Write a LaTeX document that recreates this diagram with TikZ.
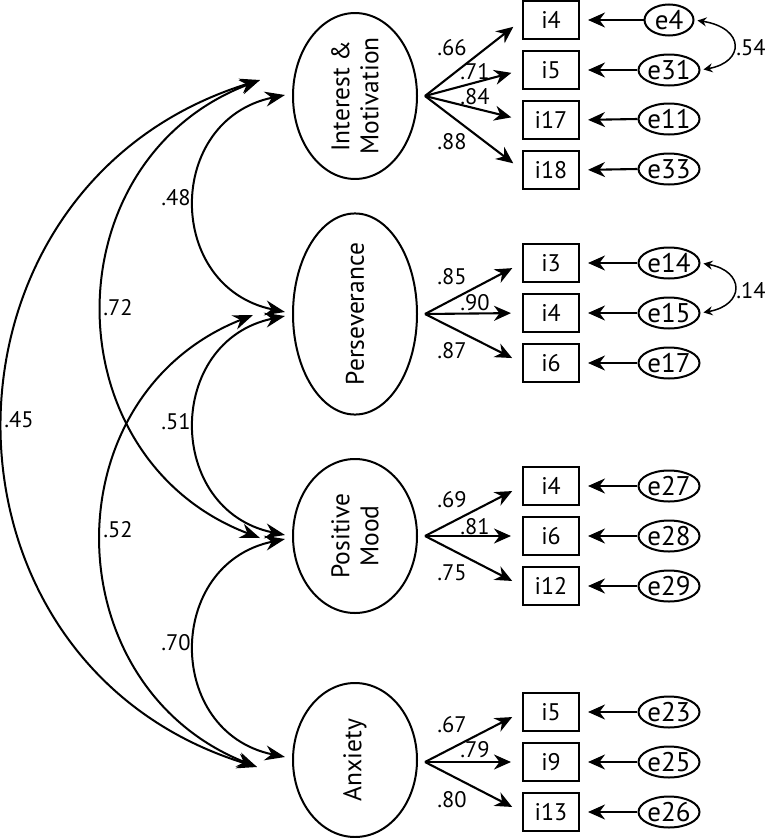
\documentclass[tikz,border=0pt]{standalone}
\usepackage{fontspec}
\setmainfont{PT Sans}
\usetikzlibrary{arrows.meta,shapes.geometric}
\begin{document}
\begin{tikzpicture}[x=1pt,y=-1pt,
  latent/.style={draw, ellipse, line width=2pt, minimum width=154pt, minimum height=124pt, inner sep=0pt, rotate=90, align=center, font=\fontsize{25.5}{29}\selectfont},
  item/.style={draw, rectangle, line width=2pt, minimum width=56pt, minimum height=38pt, inner sep=0pt, font=\fontsize{24}{26}\selectfont},
  err/.style={draw, ellipse, line width=2pt, minimum width=49pt, minimum height=31pt, inner sep=0pt, font=\fontsize{27}{28}\selectfont},
  lbl/.style={font=\fontsize{22.5}{24}\selectfont, inner sep=0pt},
  arr/.style={line width=2.1pt, -{Stealth[length=17pt,width=15pt,inset=5.5pt]}},
  cov/.style={line width=2pt, {Stealth[length=20pt,width=15pt,inset=6.5pt]}-{Stealth[length=20pt,width=15pt,inset=6.5pt]}},
  ecov/.style={line width=1.5pt, {Stealth[length=9pt,width=9pt,inset=3pt]}-{Stealth[length=9pt,width=9pt,inset=3pt]}, shorten <=3pt, shorten >=3pt},
]
\fill[white] (0,0) rectangle (765,838);
\useasboundingbox (0,0) rectangle (765,838);

% latent variables
\node[latent] (I) at (355,96) {Interest \&\\Motivation};
\node[latent] (P) at (355,314) {Perseverance};
\node[latent] (M) at (355,536) {Positive\\Mood};
\node[latent] (A) at (355,760) {Anxiety};

% loading origins
\coordinate (Io) at (425,96);
\coordinate (Po) at (425,314);
\coordinate (Mo) at (425,536);
\coordinate (Ao) at (425,762);

% Interest & Motivation items
\node[item] (a1) at (551,20) {i4};
\node[item] (a2) at (551,70) {i5};
\node[item] (a3) at (551,120) {i17};
\node[item] (a4) at (551,170) {i18};
\node[err] (ea1) at (669,20) {e4};
\node[err] (ea2) at (669,70) {e31};
\node[err] (ea3) at (669,119) {e11};
\node[err] (ea4) at (669,169) {e33};

% Perseverance items
\node[item] (b1) at (551,263) {i3};
\node[item] (b2) at (551,313) {i4};
\node[item] (b3) at (551,363) {i6};
\node[err] (eb1) at (669,263) {e14};
\node[err] (eb2) at (669,313) {e15};
\node[err] (eb3) at (669,363) {e17};

% Positive Mood items
\node[item] (c1) at (551,486) {i4};
\node[item] (c2) at (551,536) {i6};
\node[item] (c3) at (551,586) {i12};
\node[err] (ec1) at (669,486) {e27};
\node[err] (ec2) at (669,536) {e28};
\node[err] (ec3) at (669,586) {e29};

% Anxiety items
\node[item] (d1) at (551,712) {i5};
\node[item] (d2) at (551,762) {i9};
\node[item] (d3) at (551,812) {i13};
\node[err] (ed1) at (669,712) {e23};
\node[err] (ed2) at (669,762) {e25};
\node[err] (ed3) at (669,812) {e26};

% loadings
\foreach \o/\t in {Io/a1,Io/a2,Io/a3,Io/a4,Po/b1,Po/b2,Po/b3,Mo/c1,Mo/c2,Mo/c3,Ao/d1,Ao/d2,Ao/d3}
  \draw[arr, shorten >=11pt] (\o) -- (\t.west);

% error arrows
\foreach \e/\t in {ea1/a1,ea2/a2,ea3/a3,ea4/a4,eb1/b1,eb2/b2,eb3/b3,ec1/c1,ec2/c2,ec3/c3,ed1/d1,ed2/d2,ed3/d3}
  \draw[arr, shorten >=8pt] (\e.west) -- (\t.east);

% loading labels
\node[lbl] at (452,48) {.66};
\node[lbl] at (475,72) {.71};
\node[lbl] at (475,97) {.84};
\node[lbl] at (452,142) {.88};
\node[lbl] at (452,277) {.85};
\node[lbl] at (475,303) {.90};
\node[lbl] at (452,351) {.87};
\node[lbl] at (452,500) {.69};
\node[lbl] at (475,527) {.81};
\node[lbl] at (452,573) {.75};
\node[lbl] at (452,725) {.67};
\node[lbl] at (475,750) {.79};
\node[lbl] at (452,800) {.80};

% error covariances
\draw[ecov] (ea1.east) .. controls (745,28) and (745,62) .. (ea2.east);
\draw[ecov] (eb1.east) .. controls (745,271) and (745,305) .. (eb2.east);
\node[lbl] at (751,48) {.54};
\node[lbl] at (751,291) {.14};

% covariance endpoints
\coordinate (cI1) at (285,95);
\coordinate (cI2) at (260,80);
\coordinate (cP1) at (285,312);
\coordinate (cP2) at (285,316);
\coordinate (cP3) at (253,315);
\coordinate (cM1) at (285,535);
\coordinate (cM2) at (285,539);
\coordinate (cM3) at (260,538);
\coordinate (cA1) at (285,757);
\coordinate (cA2) at (257,767);

% latent covariances
\draw[cov] (cI1) .. controls (165,120) and (165,287) .. (cP1);
\draw[cov] (cP2) .. controls (165,341) and (165,510) .. (cM1);
\draw[cov] (cM2) .. controls (165,564) and (165,732) .. (cA1);
\draw[cov] (cI2) .. controls (50,160) and (50,458) .. (cM3);
\draw[cov] (cP3) .. controls (49,396) and (53,686) .. (cA2);
\draw[cov] (cI2) .. controls (-80,185) and (-83,662) .. (cA2);

\node[lbl] at (176,198) {.48};
\node[lbl] at (176,422) {.51};
\node[lbl] at (176,643) {.70};
\node[lbl] at (118,308) {.72};
\node[lbl] at (118,530) {.52};
\node[lbl] at (19,420) {.45};
\end{tikzpicture}
\end{document}
